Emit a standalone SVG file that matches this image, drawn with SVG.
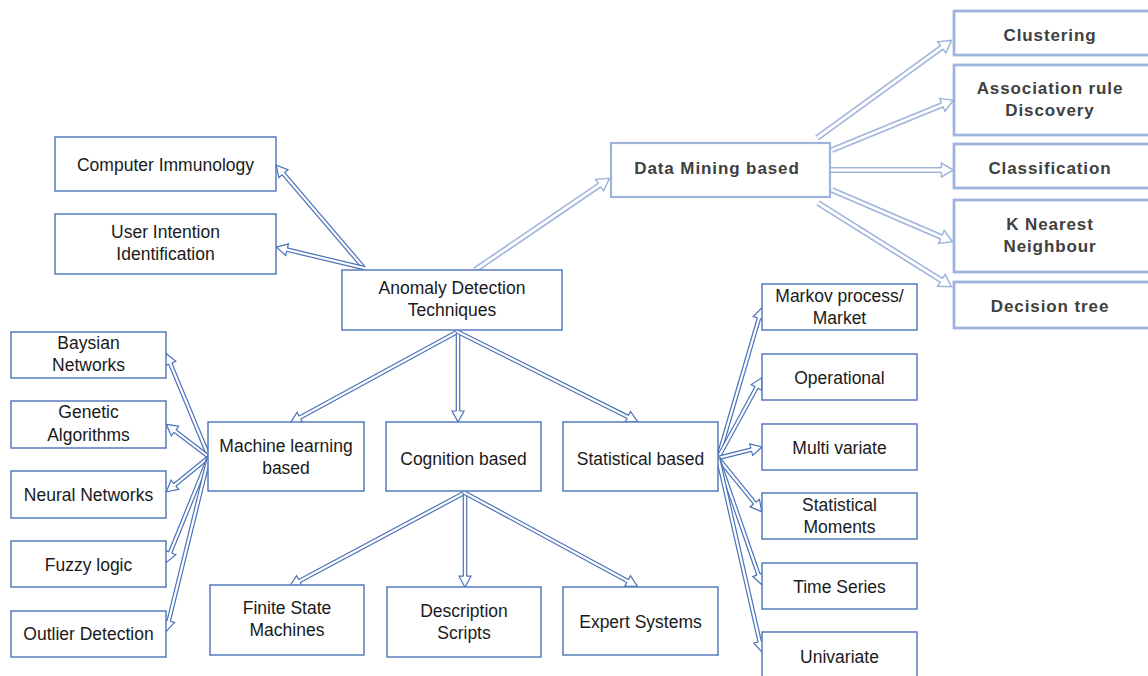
<svg xmlns="http://www.w3.org/2000/svg" width="1148" height="676" viewBox="0 0 1148 676">
<style>
.b{fill:#fff;stroke:#4a72b8;stroke-width:1.4}
.lb{fill:#fff;stroke:#9fb4dc;stroke-width:2.2}
.lr{fill:#fff;stroke:#9fb4dc;stroke-width:2.8}
.t{font-family:"Liberation Sans",Arial,sans-serif;font-size:17.5px;fill:#1a1a1a;text-anchor:middle}
.tb{font-family:"Liberation Sans",Arial,sans-serif;font-size:17px;font-weight:bold;letter-spacing:0.9px;fill:#404040;text-anchor:middle}
.d .o{stroke:#4a72b8;stroke-width:4.6;fill:none}
.d .i{stroke:#fff;stroke-width:2.2;fill:none;marker-end:url(#hd)}
.l .o{stroke:#9fb4dc;stroke-width:6;fill:none}
.l .i{stroke:#fff;stroke-width:2.8;fill:none;marker-end:url(#hl)}
</style>
<defs>
<marker id="hd" markerUnits="userSpaceOnUse" viewBox="-9 -8 15 16" markerWidth="15" markerHeight="16" refX="0" refY="0" orient="auto" overflow="visible">
<path d="M-6.8,-1.5 L-6.8,-6 L4.2,0 L-6.8,6 L-6.8,1.5" fill="#fff" stroke="#4a72b8" stroke-width="1.2"/>
</marker>
<marker id="hl" markerUnits="userSpaceOnUse" viewBox="-9 -9 16 18" markerWidth="16" markerHeight="18" refX="0" refY="0" orient="auto" overflow="visible">
<path d="M-6.9,-1.9 L-6.9,-7 L5.1,0 L-6.9,7 L-6.9,1.9" fill="#fff" stroke="#9fb4dc" stroke-width="1.5"/>
</marker>
</defs>

<g id="connectors">
<g class="d"><path class="o" d="M364,268 L279,168.5"/><path class="i" d="M364,268 L279,168.5"/></g>
<g class="d"><path class="o" d="M364,268 L280.5,248.1"/><path class="i" d="M364,268 L280.5,248.1"/></g>
<g class="l"><path class="o" d="M475,270 L605.3,181.2"/><path class="i" d="M475,270 L605.3,181.2"/></g>
<g class="d"><path class="o" d="M457,332 L294,420.8"/><path class="i" d="M457,332 L294,420.8"/></g>
<g class="d"><path class="o" d="M458,332 L458,417.8"/><path class="i" d="M458,332 L458,417.8"/></g>
<g class="d"><path class="o" d="M458,332 L633.9,419.9"/><path class="i" d="M458,332 L633.9,419.9"/></g>
<g class="d"><path class="o" d="M209,457 L167.7,357.3"/><path class="i" d="M209,457 L167.7,357.3"/></g>
<g class="d"><path class="o" d="M209,457 L169.6,426.9"/><path class="i" d="M209,457 L169.6,426.9"/></g>
<g class="d"><path class="o" d="M209,457 L169.6,489.1"/><path class="i" d="M209,457 L169.6,489.1"/></g>
<g class="d"><path class="o" d="M209,457 L167.7,558.7"/><path class="i" d="M209,457 L167.7,558.7"/></g>
<g class="d"><path class="o" d="M209,457 L167.1,627.5"/><path class="i" d="M209,457 L167.1,627.5"/></g>
<g class="d"><path class="o" d="M718,458 L760.9,311.7"/><path class="i" d="M718,458 L760.9,311.7"/></g>
<g class="d"><path class="o" d="M718,458 L759.8,381.5"/><path class="i" d="M718,458 L759.8,381.5"/></g>
<g class="d"><path class="o" d="M718,458 L757.8,448"/><path class="i" d="M718,458 L757.8,448"/></g>
<g class="d"><path class="o" d="M718,458 L759.1,508.4"/><path class="i" d="M718,458 L759.1,508.4"/></g>
<g class="d"><path class="o" d="M718,458 L760.7,581"/><path class="i" d="M718,458 L760.7,581"/></g>
<g class="d"><path class="o" d="M718,458 L761.2,648.3"/><path class="i" d="M718,458 L761.2,648.3"/></g>
<g class="d"><path class="o" d="M464,493 L293.4,584.2"/><path class="i" d="M464,493 L293.4,584.2"/></g>
<g class="d"><path class="o" d="M465,493 L465,583"/><path class="i" d="M465,493 L465,583"/></g>
<g class="d"><path class="o" d="M465,493 L633.6,584.2"/><path class="i" d="M465,493 L633.6,584.2"/></g>
<g class="l"><path class="o" d="M817,138 L947.4,43.4"/><path class="i" d="M817,138 L947.4,43.4"/></g>
<g class="l"><path class="o" d="M832,150 L948.7,102.2"/><path class="i" d="M832,150 L948.7,102.2"/></g>
<g class="l"><path class="o" d="M830,170 L948.3,170"/><path class="i" d="M830,170 L948.3,170"/></g>
<g class="l"><path class="o" d="M832,190 L947.8,239.7"/><path class="i" d="M832,190 L947.8,239.7"/></g>
<g class="l"><path class="o" d="M818,203 L947.2,284"/><path class="i" d="M818,203 L947.2,284"/></g>
</g>

<g id="computer-immunology"><rect class="b" x="55" y="137" width="221" height="54"/><text class="t" x="165.5" y="171">Computer Immunology</text></g>
<g id="user-intention"><rect class="b" x="55" y="214" width="221" height="60"/><text class="t" x="165.5" y="238">User Intention</text><text class="t" x="165.5" y="260">Identification</text></g>
<g id="anomaly"><rect class="b" x="342" y="270" width="220" height="60"/><text class="t" x="452" y="294">Anomaly Detection</text><text class="t" x="452" y="316">Techniques</text></g>
<g id="data-mining"><rect class="lb" x="611" y="143" width="219" height="54"/><text class="tb" x="717" y="174">Data Mining based</text></g>

<g id="clustering"><rect class="lr" x="954" y="11" width="200" height="44"/><text class="tb" x="1050" y="41">Clustering</text></g>
<g id="association"><rect class="lr" x="954" y="65" width="200" height="70"/><text class="tb" x="1050" y="94">Association rule</text><text class="tb" x="1050" y="116">Discovery</text></g>
<g id="classification"><rect class="lr" x="954" y="144" width="200" height="44"/><text class="tb" x="1050" y="174">Classification</text></g>
<g id="knn"><rect class="lr" x="954" y="200" width="200" height="72"/><text class="tb" x="1050" y="230">K Nearest</text><text class="tb" x="1050" y="252">Neighbour</text></g>
<g id="decision-tree"><rect class="lr" x="954" y="282" width="200" height="46"/><text class="tb" x="1050" y="312">Decision tree</text></g>

<g id="baysian"><rect class="b" x="11" y="332" width="155" height="46"/><text class="t" x="88.5" y="349">Baysian</text><text class="t" x="88.5" y="371">Networks</text></g>
<g id="genetic"><rect class="b" x="11" y="401" width="155" height="47"/><text class="t" x="88.5" y="418">Genetic</text><text class="t" x="88.5" y="441">Algorithms</text></g>
<g id="neural"><rect class="b" x="11" y="471" width="155" height="47"/><text class="t" x="88.5" y="501">Neural Networks</text></g>
<g id="fuzzy"><rect class="b" x="11" y="541" width="155" height="46"/><text class="t" x="88.5" y="571">Fuzzy logic</text></g>
<g id="outlier"><rect class="b" x="11" y="611" width="155" height="46"/><text class="t" x="88.5" y="640">Outlier Detection</text></g>

<g id="machine-learning"><rect class="b" x="208" y="422" width="156" height="69"/><text class="t" x="286" y="452">Machine learning</text><text class="t" x="286" y="474">based</text></g>
<g id="cognition"><rect class="b" x="386" y="422" width="155" height="69"/><text class="t" x="463.5" y="465">Cognition based</text></g>
<g id="statistical"><rect class="b" x="563" y="422" width="155" height="69"/><text class="t" x="640.5" y="465">Statistical based</text></g>

<g id="fsm"><rect class="b" x="210" y="585" width="154" height="70"/><text class="t" x="287" y="614">Finite State</text><text class="t" x="287" y="636">Machines</text></g>
<g id="description"><rect class="b" x="387" y="587" width="154" height="70"/><text class="t" x="464" y="617">Description</text><text class="t" x="464" y="639">Scripts</text></g>
<g id="expert"><rect class="b" x="563" y="587" width="155" height="68"/><text class="t" x="640.5" y="628">Expert Systems</text></g>

<g id="markov"><rect class="b" x="762" y="284" width="155" height="46"/><text class="t" x="839.5" y="302">Markov process/</text><text class="t" x="839.5" y="324">Market</text></g>
<g id="operational"><rect class="b" x="762" y="354" width="155" height="46"/><text class="t" x="839.5" y="384">Operational</text></g>
<g id="multivariate"><rect class="b" x="762" y="424" width="155" height="46"/><text class="t" x="839.5" y="454">Multi variate</text></g>
<g id="moments"><rect class="b" x="762" y="493" width="155" height="46"/><text class="t" x="839.5" y="511">Statistical</text><text class="t" x="839.5" y="533">Moments</text></g>
<g id="time-series"><rect class="b" x="762" y="563" width="155" height="46"/><text class="t" x="839.5" y="593">Time Series</text></g>
<g id="univariate"><rect class="b" x="762" y="632" width="155" height="50"/><text class="t" x="839.5" y="663">Univariate</text></g>
</svg>
